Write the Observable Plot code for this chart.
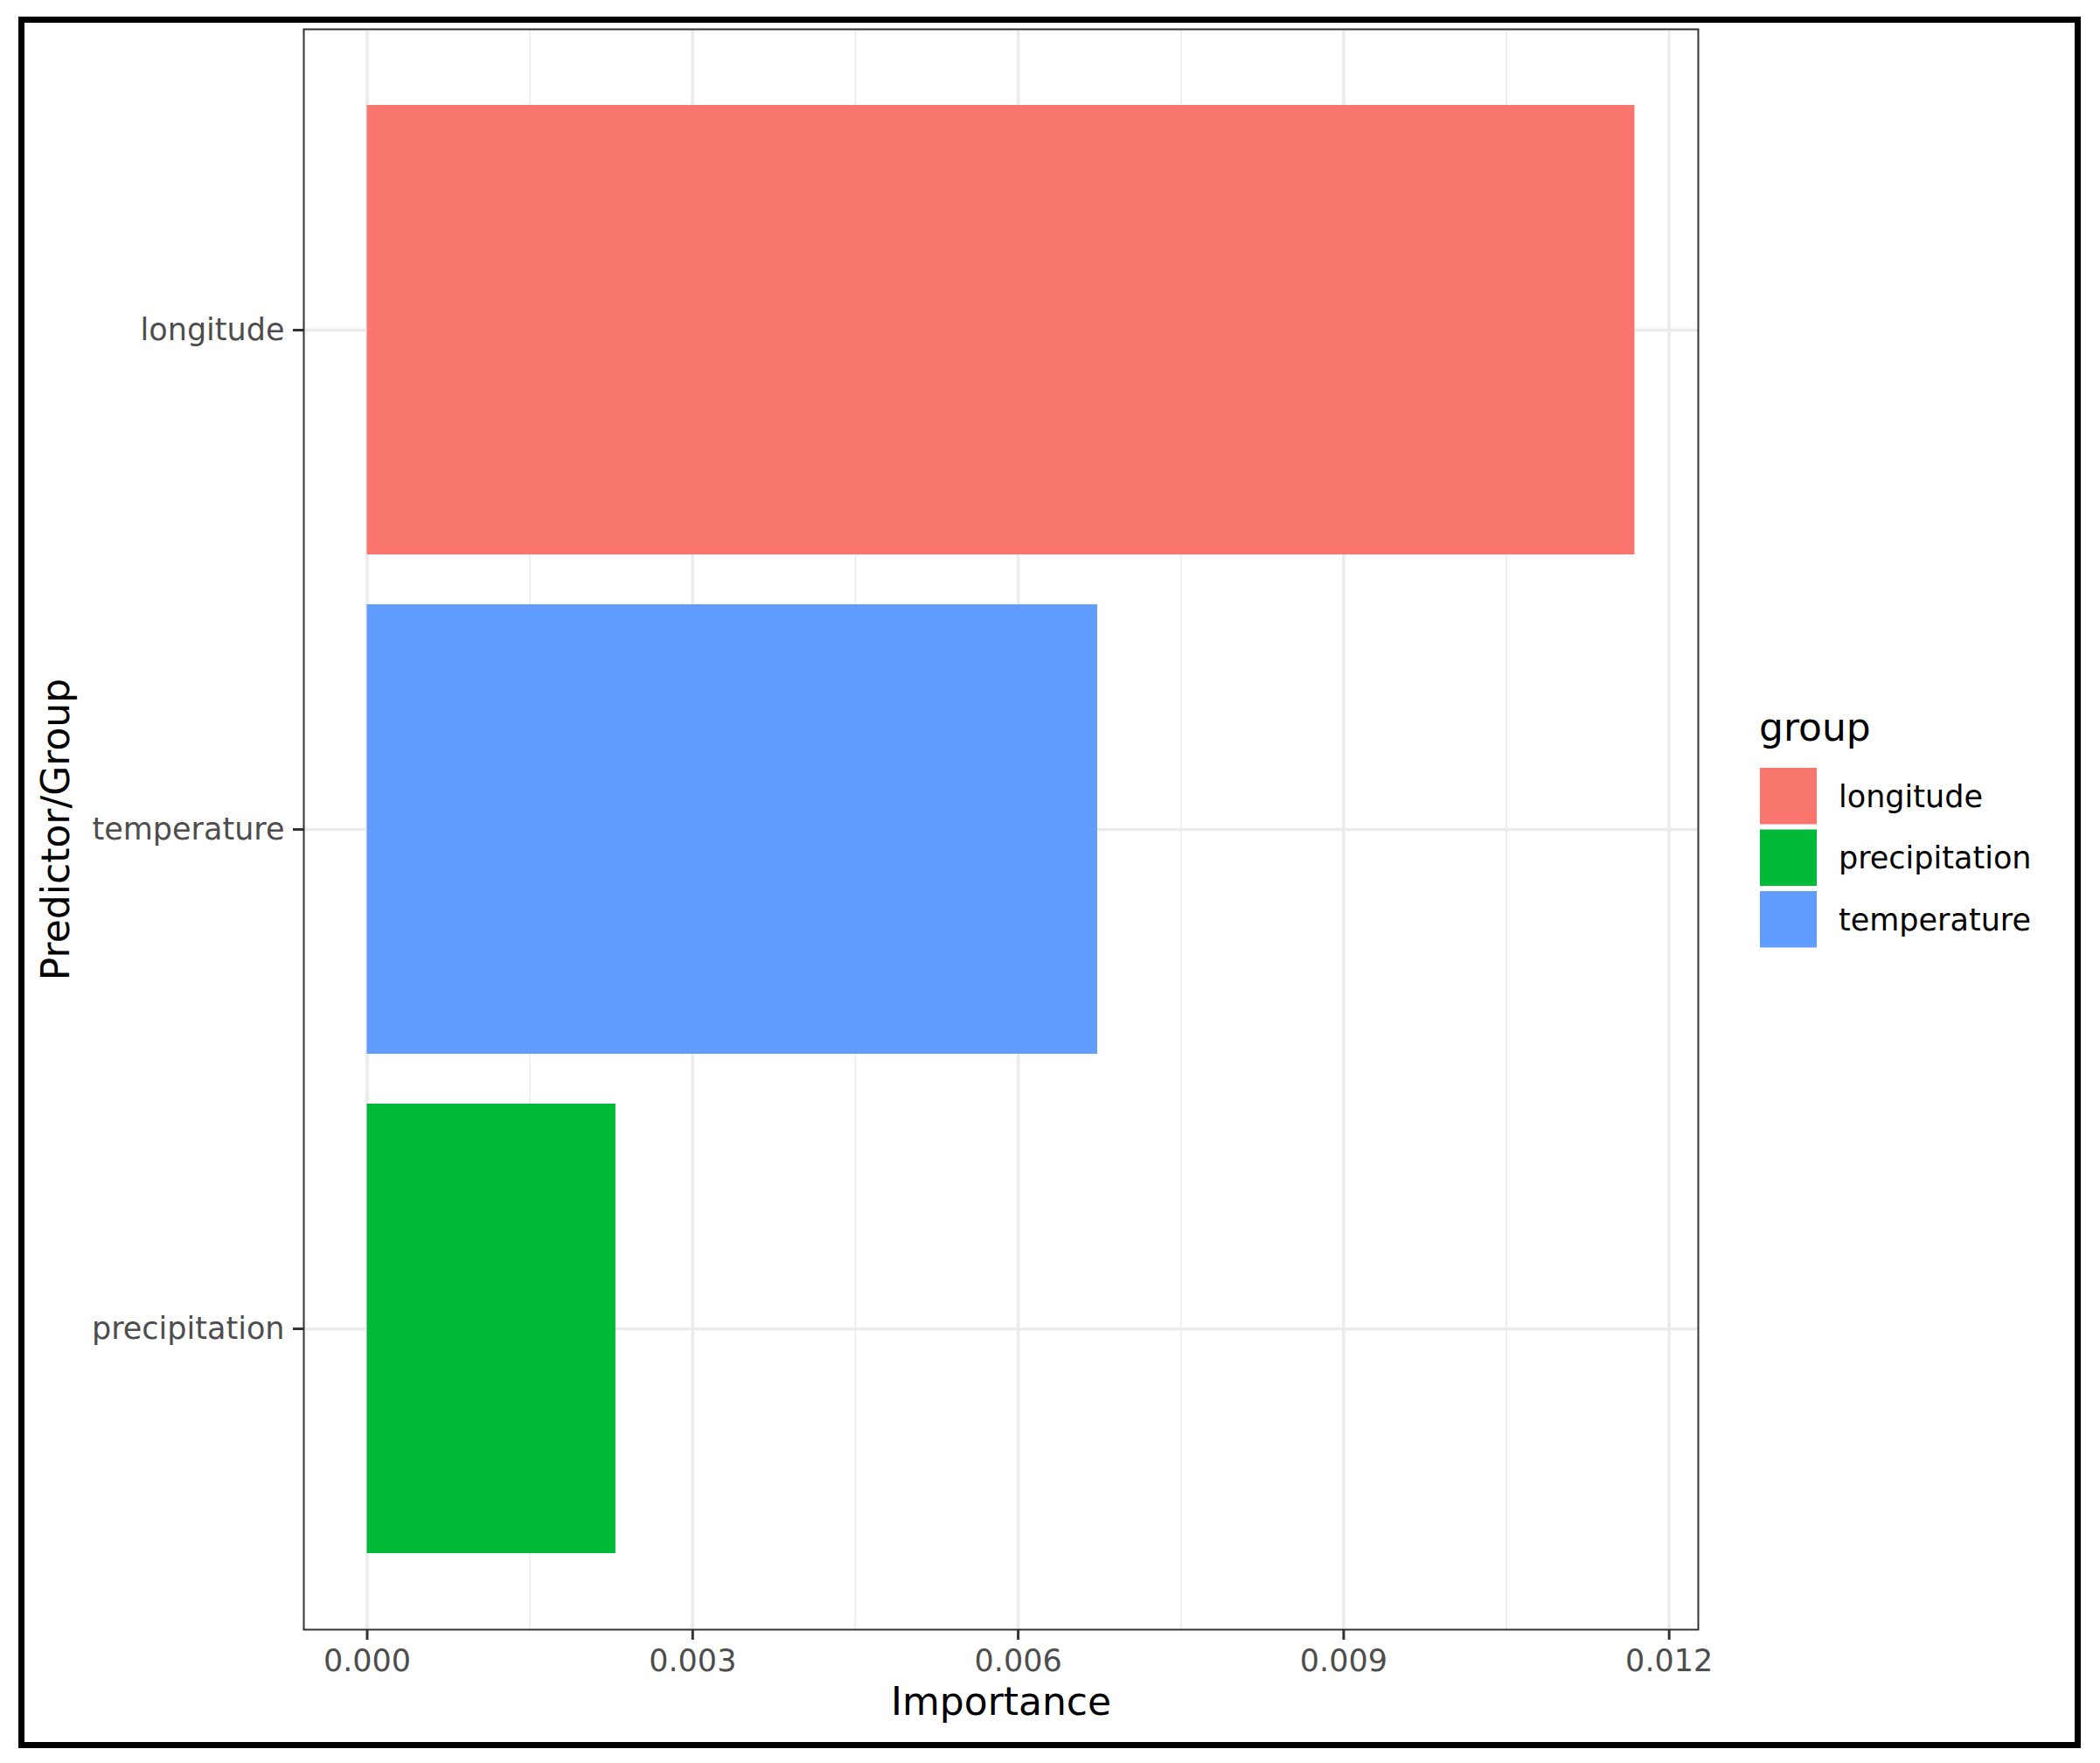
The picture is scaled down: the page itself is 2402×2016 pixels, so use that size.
<!DOCTYPE html>
<html>
<head>
<meta charset="utf-8">
<script src="https://cdn.jsdelivr.net/npm/d3@7"></script>
<script src="https://cdn.jsdelivr.net/npm/@observablehq/plot@0.6"></script>
<style>
  html, body { margin: 0; padding: 0; background: #ffffff; }
  #wrap { position: relative; width: 2402px; height: 2016px; background: #ffffff; overflow: hidden; }
  #border { position: absolute; left: 21px; top: 19px; width: 2359px; height: 1980px; box-sizing: border-box; border: 7px solid #000; pointer-events: none; }
  #legend { position: absolute; left: 0; top: 0; pointer-events: none; }
  svg { font-family: "DejaVu Sans", sans-serif; }
</style>
</head>
<body>
<div id="wrap"><div id="border"></div></div>
<script>
// ---- data ----
const groups = ["longitude", "temperature", "precipitation"];
const importance = [0.011684, 0.006732, 0.002292];
const legendGroups = ["longitude", "precipitation", "temperature"];
const groupColors = ["#F8766D", "#00BA38", "#619CFF"];
const xTicks = [0, 0.003, 0.006, 0.009, 0.012];
const xMinorTicks = [0.0015, 0.0045, 0.0075, 0.0105];
const xTitle = "Importance";
const yTitle = "Predictor/Group";
const legendTitle = "group";

const data = groups.map((g, i) => ({group: g, value: importance[i]}));
const xMax = d3.max(importance);
const pad = 0.05 * xMax;

const W = 2402, H = 2016;
const mL = 347, mR = 460, mT = 33, mB = 153;

const chart = Plot.plot({
  width: W,
  height: H,
  marginLeft: mL,
  marginRight: mR,
  marginTop: mT,
  marginBottom: mB,
  style: {fontFamily: "DejaVu Sans, sans-serif", background: "transparent", overflow: "visible"},
  x: {domain: [-pad, xMax + pad]},
  y: {domain: groups, paddingInner: 0.1, paddingOuter: 0.15},
  color: {domain: legendGroups, range: groupColors},
  marks: [
    Plot.gridX({ticks: xMinorTicks, stroke: "#EBEBEB", strokeOpacity: 1, strokeWidth: 1.6}),
    Plot.gridX({ticks: xTicks, stroke: "#EBEBEB", strokeOpacity: 1, strokeWidth: 3.5}),
    Plot.gridY({stroke: "#EBEBEB", strokeOpacity: 1, strokeWidth: 3.5}),
    Plot.barX(data, {x: "value", y: "group", fill: "group"}),
    Plot.frame({stroke: "#333333", strokeWidth: 2}),
    Plot.axisX({ticks: xTicks, tickFormat: d3.format(".3f"), tickSize: 12, tickPadding: 11,
      fontSize: 35, fill: "#4D4D4D", stroke: "#333333", strokeWidth: 3, label: null}),
    Plot.axisY({tickSize: 12, tickPadding: 10, fontSize: 35, fill: "#4D4D4D",
      stroke: "#333333", strokeWidth: 3, label: null}),
    Plot.text([xTitle], {frameAnchor: "bottom", lineAnchor: "bottom", dy: 97,
      fontSize: 44, fill: "#000"}),
    Plot.text([yTitle], {frameAnchor: "left", textAnchor: "middle", lineAnchor: "bottom",
      rotate: -90, dx: -269, fontSize: 44, fill: "#000"})
  ]
});

const wrap = document.getElementById("wrap");
wrap.insertBefore(chart, wrap.firstChild);

// ---- legend (built from the plot's color scale) ----
const colorScale = chart.scale("color");
const leg = d3.select(wrap).append("svg")
  .attr("id", "legend")
  .attr("width", W).attr("height", H);
leg.append("text")
  .attr("x", 2012).attr("y", 847)
  .attr("font-size", 44).attr("fill", "#000")
  .text(legendTitle);
const keyTop = 878, keyStep = 70.5, keySize = 64.5, keyX = 2013;
colorScale.domain.forEach((g, i) => {
  leg.append("rect")
    .attr("x", keyX).attr("y", keyTop + i * keyStep)
    .attr("width", 65).attr("height", keySize)
    .attr("fill", colorScale.range[i]);
  leg.append("text")
    .attr("x", 2103).attr("y", keyTop + i * keyStep + keySize / 2 + 12.7)
    .attr("font-size", 35).attr("fill", "#000")
    .text(g);
});
</script>
</body>
</html>
